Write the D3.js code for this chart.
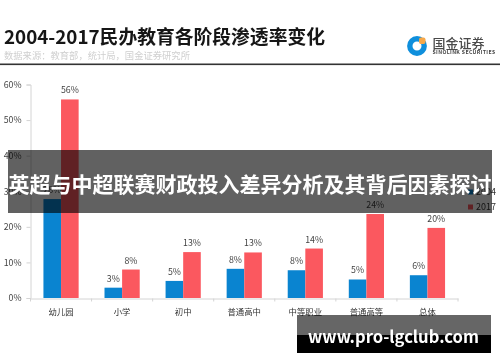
<!DOCTYPE html>
<html><head><meta charset="utf-8">
<script src="https://cdn.jsdelivr.net/npm/d3@7/dist/d3.min.js"></script>
<style>
html,body{margin:0;padding:0;background:#fff;overflow:hidden}
svg{display:block}
text{font-family:"Noto Sans CJK SC","Noto Sans",sans-serif}
</style></head><body>
<svg id="c" width="500" height="362"></svg>
<script>
const categories = ["幼儿园","小学","初中","普通高中","中等职业","普通高等","总体"];
const seriesNames = ["2004","2017"];
const values2004 = [27.8,2.9,4.8,8.2,7.8,5.2,6.4];
const values2017 = [55.8,8.0,12.9,12.8,13.9,23.6,19.7];
const labels2004 = ["28%","3%","5%","8%","8%","5%","6%"];
const labels2017 = ["56%","8%","13%","13%","14%","24%","20%"];
const yTicks = [0,10,20,30,40,50,60];
const colors = ["#0a84d0","#fb585f"];
const titleText = "2004-2017民办教育各阶段渗透率变化";
const sourceText = "数据来源：教育部，统计局，国金证券研究所";
const bannerText = "英超与中超联赛财政投入差异分析及其背后因素探讨";
const siteText = "www.pro-lgclub.com";

const svg = d3.select("#c");
const chart = svg.append("g").style("filter","blur(0.35px)");

chart.append("text").attr("x",4).attr("y",43.5).attr("font-size",18.8).attr("font-weight",700).attr("fill","#161616").text(titleText);
chart.append("text").attr("x",4).attr("y",59).attr("font-size",9.3).attr("fill","#cfcfcf").text(sourceText);
chart.append("rect").attr("x",0).attr("y",63.5).attr("width",500).attr("height",1.6).attr("fill","#333");

const logo = chart.append("g");
logo.append("circle").attr("cx",417).attr("cy",46).attr("r",7.2).attr("fill","none").attr("stroke","#0f8fdc").attr("stroke-width",5.4);
logo.append("rect").attr("x",419).attr("y",37.5).attr("width",6.5).attr("height",6.5).attr("rx",2).attr("fill","#f6a84a");
logo.append("text").attr("x",432.5).attr("y",48).attr("font-size",13).attr("font-weight",500).attr("fill","#4a4a4a").text("国金证券");
logo.append("text").attr("x",432.5).attr("y",54.2).attr("font-size",5.2).attr("font-weight",700).attr("font-family","Liberation Sans").attr("letter-spacing",0.35).attr("fill","#444").text("SINOLINK SECURITIES");

const y = d3.scaleLinear().domain([0,60]).range([298,84.5]);
const x = d3.scaleBand().domain(categories).range([30.5,458]);
const inner = d3.scaleBand().domain(seriesNames).range([0,35.2]);
const off = (x.bandwidth()-35.2)/2;

const gy = chart.append("g").attr("transform","translate(30.5,0)")
  .call(d3.axisLeft(y).tickValues(yTicks).tickFormat(d=>d+"%").tickSize(4).tickPadding(5));
const gx = chart.append("g").attr("transform","translate(0,298.5)")
  .call(d3.axisBottom(x).tickSize(0).tickPadding(11));
gy.selectAll("path,line").attr("stroke","#d4d4d4");
gx.selectAll("path").attr("stroke","#d4d4d4");
gy.selectAll("text").attr("font-size",8.8).attr("fill","#444");
gx.selectAll("text").attr("font-size",8.4).attr("fill","#333");
gx.selectAll(".sep").data(x.domain().map(d=>x(d)).concat([458])).enter().append("line").attr("class","sep")
  .attr("x1",d=>d).attr("x2",d=>d).attr("y1",0).attr("y2",3).attr("stroke","#d4d4d4");

[values2004,values2017].forEach((vals,si)=>{
  const name = seriesNames[si], lbl = si? labels2017: labels2004;
  chart.append("g").selectAll("rect").data(vals).enter().append("rect")
    .attr("x",(d,i)=>x(categories[i])+off+inner(name))
    .attr("y",d=>y(d)).attr("width",inner.bandwidth()).attr("height",d=>y(0)-y(d)).attr("fill",colors[si]);
  chart.append("g").selectAll("text").data(vals).enter().append("text")
    .attr("x",(d,i)=>x(categories[i])+off+inner(name)+inner.bandwidth()/2)
    .attr("y",d=>y(d)-6).attr("text-anchor","middle").attr("font-size",8.8).attr("fill","#444")
    .text((d,i)=>lbl[i]);
});

const leg = chart.append("g").selectAll("g").data(seriesNames).enter().append("g")
  .attr("transform",(d,i)=>`translate(468,${192+i*15})`);
leg.append("rect").attr("x",0).attr("y",-2.5).attr("width",5).attr("height",5).attr("fill",(d,i)=>colors[i]);
leg.append("text").attr("x",8).attr("y",3).attr("font-size",9).attr("fill","#333").text(d=>d);

svg.append("rect").attr("x",8).attr("y",150).attr("width",484).attr("height",63).attr("fill","#000").attr("opacity",0.62);
svg.append("text").attr("x",250).attr("y",192).attr("text-anchor","middle").attr("font-size",21).attr("font-weight",700).attr("fill","#fff").text(bannerText);

svg.append("rect").attr("x",297).attr("y",335).attr("width",194).attr("height",18).attr("fill","#000");
svg.append("rect").attr("x",297).attr("y",315).attr("width",194).attr("height",20).attr("fill","#000").attr("opacity",0.6);
svg.append("text").attr("x",393.5).attr("y",342.5).attr("text-anchor","middle").attr("font-size",16.6).attr("font-weight",700).attr("font-family","Open Sans, Noto Sans").attr("fill","#fff").text(siteText);
</script>
</body></html>
